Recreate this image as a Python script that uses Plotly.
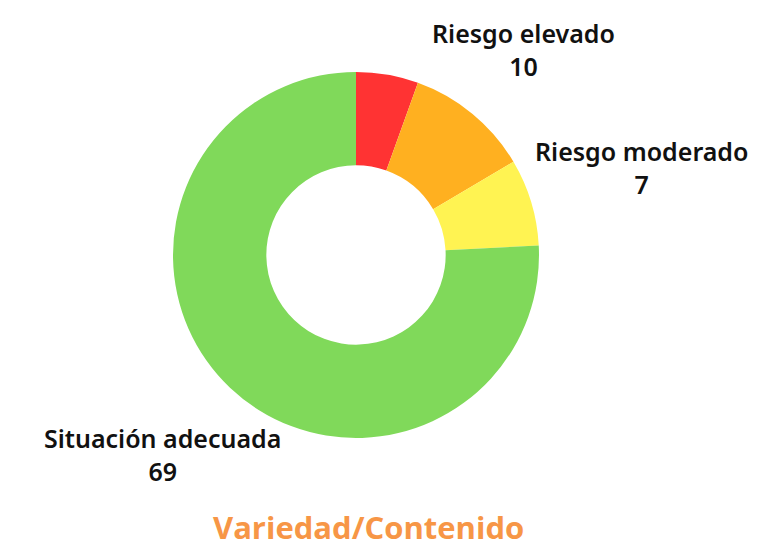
import plotly.graph_objects as go

categories = ["Riesgo muy elevado", "Riesgo elevado", "Riesgo moderado", "Situación adecuada"]
values = [5, 10, 7, 69]
colors = ["#FF3333", "#FFB020", "#FFF352", "#80D95A"]
show_label = [False, True, True, True]
title_text = "Variedad/Contenido"

W, H = 762, 547
OFF = 8  # page body margin shifts the figure by 8px


def px_x(x):
    return (x - OFF) / W


def px_y(y):
    return 1 - (y - OFF) / H


fig = go.Figure(
    go.Pie(
        labels=categories,
        values=values,
        hole=0.49,
        sort=False,
        direction="clockwise",
        rotation=0,
        marker=dict(colors=colors, line=dict(width=0)),
        textinfo="none",
        hoverinfo="label+value",
        domain=dict(x=[px_x(356 - 183), px_x(356 + 183)], y=[px_y(438), px_y(72)]),
    )
)

# label positions (pixels, center) for the labelled slices
label_xy = {1: (523, 49), 2: (641, 167), 3: (162, 454)}
for i, (x, y) in label_xy.items():
    if not show_label[i]:
        continue
    fig.add_annotation(
        x=px_x(x), y=px_y(y), xref="paper", yref="paper",
        xanchor="center", yanchor="middle",
        text=f"{categories[i]}<br>{values[i]}",
        showarrow=False,
        font=dict(family="Noto Sans", size=25, color="#111111", weight=600),
        align="center",
    )

fig.add_annotation(
    x=px_x(368), y=px_y(527), xref="paper", yref="paper",
    xanchor="center", yanchor="middle",
    text=title_text, showarrow=False,
    font=dict(family="Open Sans", size=31, color="#F79646", weight="bold"),
)

fig.update_layout(
    width=W, height=H,
    margin=dict(l=0, r=0, t=0, b=0),
    showlegend=False,
    paper_bgcolor="white",
    plot_bgcolor="white",
)

fig.write_html("out.html")
